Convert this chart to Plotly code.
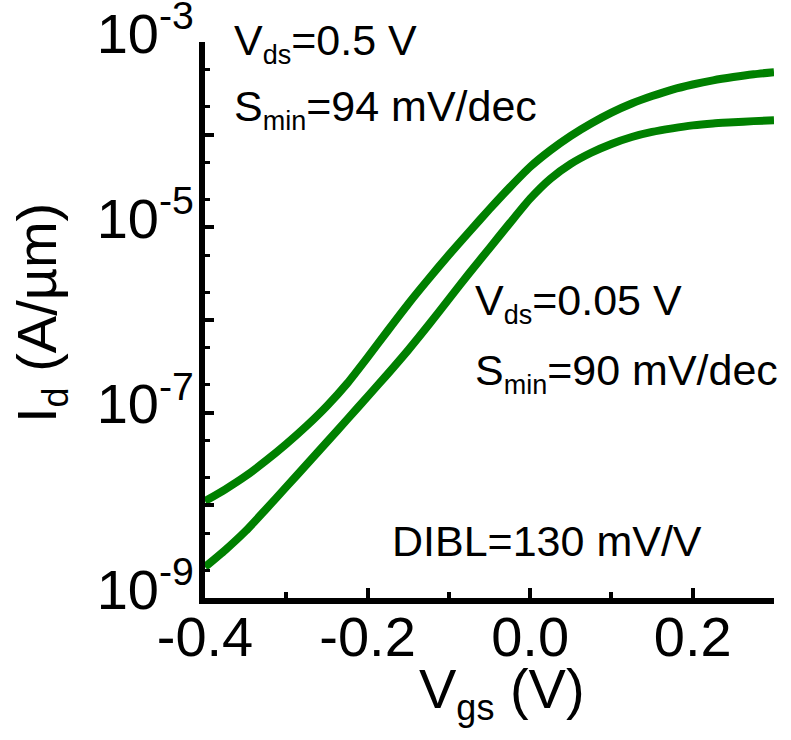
import plotly.graph_objects as go

# Transfer characteristics Id-Vgs at two drain biases (A/um)
vgs = [-0.400, -0.375, -0.350, -0.325, -0.300, -0.275, -0.250, -0.225, -0.200, -0.175,
       -0.150, -0.125, -0.100, -0.075, -0.050, -0.025, 0.000, 0.025, 0.050, 0.075,
       0.100, 0.125, 0.150, 0.175, 0.200, 0.225, 0.250, 0.275, 0.300]
id_vds_high = [1.11e-8, 1.49e-8, 2.07e-8, 3.03e-8, 4.59e-8, 7.19e-8, 1.18e-7, 2.07e-7,
               3.95e-7, 7.71e-7, 1.49e-6, 2.77e-6, 5.04e-6, 8.95e-6, 1.57e-5, 2.70e-5,
               4.49e-5, 6.79e-5, 9.71e-5, 1.32e-4, 1.73e-4, 2.17e-4, 2.61e-4, 3.07e-4,
               3.48e-4, 3.86e-4, 4.19e-4, 4.49e-4, 4.72e-4]
id_vds_low = [2.16e-9, 3.30e-9, 5.28e-9, 9.08e-9, 1.58e-8, 2.76e-8, 4.83e-8, 8.45e-8,
              1.49e-7, 2.63e-7, 4.73e-7, 8.81e-7, 1.68e-6, 3.20e-6, 5.96e-6, 1.11e-5,
              2.04e-5, 3.35e-5, 4.84e-5, 6.38e-5, 7.94e-5, 9.44e-5, 1.07e-4, 1.17e-4,
              1.26e-4, 1.32e-4, 1.36e-4, 1.40e-4, 1.43e-4]

y_tick_vals = [1e-9, 1e-8, 1e-7, 1e-6, 1e-5, 1e-4, 1e-3]
y_tick_text = ["10<sup>-9</sup>", "", "10<sup>-7</sup>", "", "10<sup>-5</sup>", "", "10<sup>-3</sup>"]
x_tick_vals = [-0.4, -0.2, 0.0, 0.2]
x_tick_text = ["-0.4", "-0.2", "0.0", "0.2"]

FONT = "Liberation Sans, Arial, sans-serif"
GREEN = "#008000"

W, H = 791, 740
L, R, T, B = 205, 17, 42, 142
pw, ph = W - L - R, H - T - B


def px(xp, yp):
    """Convert page pixel position to paper coordinates."""
    return (xp - L) / pw, (H - B - yp) / ph


fig = go.Figure()
for ys in (id_vds_high, id_vds_low):
    fig.add_trace(go.Scatter(
        x=vgs, y=ys, mode="lines",
        line=dict(color=GREEN, width=8, shape="spline", smoothing=0.6),
        showlegend=False, hoverinfo="skip"))

SUB = 'style="font-size:27px"'
notes = [
    (232, 43, f'V<sub><span {SUB}>ds</span></sub>=0.5 V'),
    (232, 109, f'S<sub><span {SUB}>min</span></sub>=94 mV/dec'),
    (473, 303, f'V<sub><span {SUB}>ds</span></sub>=0.05 V'),
    (473, 373, f'S<sub><span {SUB}>min</span></sub>=90 mV/dec'),
    (390, 541, 'DIBL=130 mV/V'),
]
for xp, yp, txt in notes:
    ax, ay = px(xp, yp)
    fig.add_annotation(x=ax, y=ay, xref="paper", yref="paper", text=txt,
                       showarrow=False, xanchor="left", yanchor="middle",
                       font=dict(family=FONT, size=43, color="black"))

# axis titles
tx, ty = px(40, 313)
fig.add_annotation(x=tx, y=ty, xref="paper", yref="paper",
                   text='I<sub><span style="font-size:36px">d</span></sub> (A/\u00b5m)',
                   textangle=-90, showarrow=False, xanchor="center", yanchor="middle",
                   font=dict(family=FONT, size=56, color="black"))
tx, ty = px(502, 692)
fig.add_annotation(x=tx, y=ty, xref="paper", yref="paper",
                   text='V<sub><span style="font-size:36px">gs</span></sub> (V)',
                   showarrow=False, xanchor="center", yanchor="middle",
                   font=dict(family=FONT, size=56, color="black"))

fig.update_xaxes(
    range=[-0.4, 0.3], showgrid=False, zeroline=False, automargin=False,
    showline=True, linecolor="black", linewidth=6,
    ticks="inside", ticklen=10, tickwidth=4, tickcolor="black",
    tickvals=x_tick_vals, ticktext=x_tick_text,
    ticklabelstandoff=-15, ticklabeloverflow="allow",
    tickfont=dict(family=FONT, size=56, color="black"),
    minor=dict(ticks="inside", ticklen=6, tickwidth=4, tickcolor="black",
               dtick=0.1, tick0=-0.4, showgrid=False),
)
fig.update_yaxes(
    type="log", range=[-9, -3], showgrid=False, zeroline=False, automargin=False,
    showline=True, linecolor="black", linewidth=6,
    ticks="inside", ticklen=9, tickwidth=4, tickcolor="black",
    tickvals=y_tick_vals, ticktext=y_tick_text,
    ticklabelshift=-9, ticklabelstandoff=-6, ticklabeloverflow="allow",
    tickfont=dict(family=FONT, size=56, color="black"),
    minor=dict(ticks="inside", ticklen=5, tickwidth=3, tickcolor="black", showgrid=False),
)

fig.update_layout(
    width=W, height=H,
    margin=dict(l=L, r=R, t=T, b=B, autoexpand=False),
    paper_bgcolor="white", plot_bgcolor="white",
)

fig.write_html("out.html")
